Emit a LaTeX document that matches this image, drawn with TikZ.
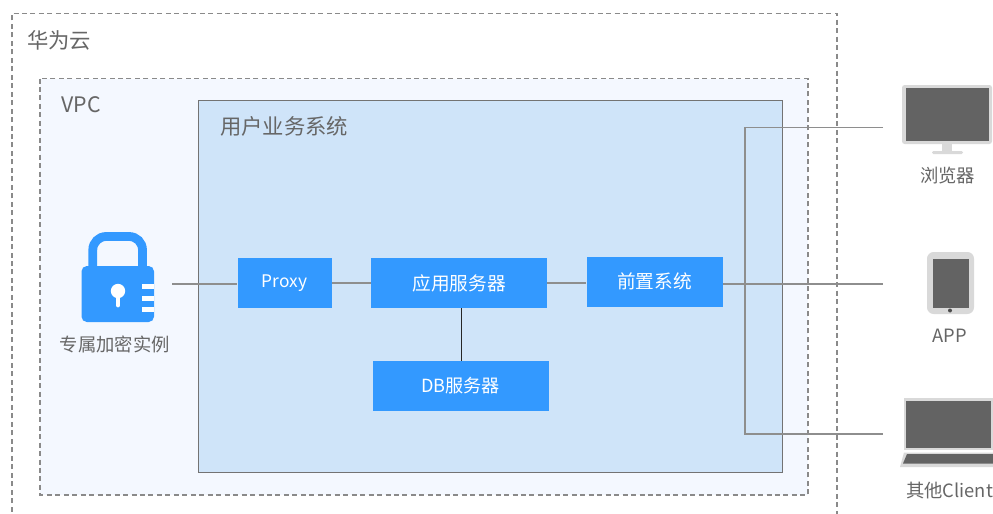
\documentclass[tikz,border=0pt]{standalone}
\usepackage{fontspec}
\setmainfont{Open Sans}
\newfontfamily\cjk{Noto Sans CJK SC}
\definecolor{boxblue}{HTML}{3399FF}
\definecolor{labelgray}{HTML}{666666}
\definecolor{linegray}{HTML}{8E8E8E}
\definecolor{dashgray}{HTML}{8A8A8A}
\definecolor{vpcfill}{HTML}{F4F8FF}
\definecolor{sysfill}{HTML}{CFE4F9}
\definecolor{devdark}{HTML}{636363}
\definecolor{devlight}{HTML}{D9D9D9}
\tikzset{
  x=0.75pt,y=-0.75pt,
  dashbox/.style={draw=dashgray,line width=0.9pt,dash pattern=on 3.75pt off 2.6pt},
  blk/.style={fill=boxblue,text=white,minimum height=37.5pt,inner sep=0pt,font=\cjk\fontsize{14pt}{16pt}\selectfont},
  lbl/.style={text=labelgray,inner sep=0pt,font=\cjk\fontsize{13.75pt}{16pt}\selectfont},
  biglbl/.style={text=labelgray,inner sep=0pt,font=\cjk\fontsize{16pt}{18pt}\selectfont},
  link/.style={draw=linegray,line width=1pt},
  dlink/.style={draw=black!85,line width=0.9pt},
  dev/.style={fill=devdark},
  devrim/.style={fill=devlight},
}
\begin{document}
\begin{tikzpicture}
\useasboundingbox (0,0) rectangle (993,514);
\fill[white] (0,0) rectangle (993,514);
% frames
\draw[dashbox] (12,520) -- (12,13.5) -- (837,13.5) -- (837,520);
\draw[dashbox,fill=vpcfill] (40,78.5) rectangle (808,495);
\draw[draw=black!55,line width=0.7pt,fill=sysfill] (198,100) rectangle (782,472);
\node[biglbl,anchor=west] (lhw) at (27,40) {华为云};
\node[biglbl,anchor=west] (lvpc) at (61,105) {VPC};
\node[biglbl,anchor=west] (lsys) at (220,126) {用户业务系统};
% coordinates
\coordinate (lockR) at (172,284);
\coordinate (tapA) at (883,127.5);
\coordinate (tapB) at (883,284);
\coordinate (tapC) at (883,434);
\coordinate (busT) at (745,127.5);
\coordinate (busB) at (745,434);
\coordinate (dbx) at (461.5,300);
\coordinate (midy) at (500,283);
% boxes
\node[blk,minimum width=70.5pt,font=\cjk\fontsize{13pt}{16pt}\selectfont] (proxy) at (284.5,283) {\raisebox{1pt}{Proxy}};
\node[blk,minimum width=132pt] (app) at (459,283) {应用服务器};
\node[blk,minimum width=102pt] (front) at (654.5,281.5) {前置系统};
\node[blk,minimum width=132pt,font=\cjk\fontsize{13.6pt}{16pt}\selectfont] (db) at (460.5,386) {DB服务器};
% connectors
\draw[link] (lockR) -- (lockR -| proxy.west);
\draw[link] (proxy.east) -- (app.west);
\draw[link] (app.east) -- (midy -| front.west);
\draw[dlink] (dbx |- app.south) -- (dbx |- db.north);
\draw[link] (tapB -| front.east) -- (tapB);
\draw[link] (tapA) -- (busT) -- (busB) -- (tapC);
% lock
\draw[boxblue,line width=6.6pt,rounded corners=10pt]
  (92.8,270) -- (92.8,236.5) -- (142.5,236.5) -- (142.5,270);
\fill[boxblue,rounded corners=4pt] (81.5,266) rectangle (154,322);
\fill[white] (118,291) circle (5.4pt);
\draw[white,line width=3.6pt,line cap=round] (118,293) -- (118,305);
\fill[white] (142,283.5) rectangle (154,288.5);
\fill[white] (142,295.5) rectangle (154,300.5);
\fill[white] (142,306.5) rectangle (154,311.5);
\node[lbl] (llock) at (115,344) {专属加密实例};
% monitor
\fill[devrim,rounded corners=2pt] (902,85) rectangle (992,144);
\fill[dev] (906,87.5) rectangle (989,141);
\fill[devrim] (942,144) rectangle (952,151);
\fill[devrim,rounded corners=1pt] (932,151) rectangle (963,154);
\node[lbl] (lbrowser) at (947.5,175.5) {浏览器};
% tablet
\fill[devrim,rounded corners=5pt] (927,252) rectangle (974,314);
\fill[dev] (932.5,258.5) rectangle (969,307.5);
\fill[black!70] (950,310.5) circle (1.5pt);
\node[lbl] (lapp) at (949.5,336) {APP};
% laptop
\fill[devrim] (904,398) rectangle (993,449.5);
\fill[dev] (906,401) rectangle (991,448);
\fill[devrim] (904,452.5) -- (993,452.5) -- (993,467) -- (900,467) -- cycle;
\fill[dev] (907,454) -- (993,454) -- (993,463.5) -- (903,463.5) -- cycle;
\node[lbl] (lclient) at (949.5,491) {其他Client};
\end{tikzpicture}
\end{document}
